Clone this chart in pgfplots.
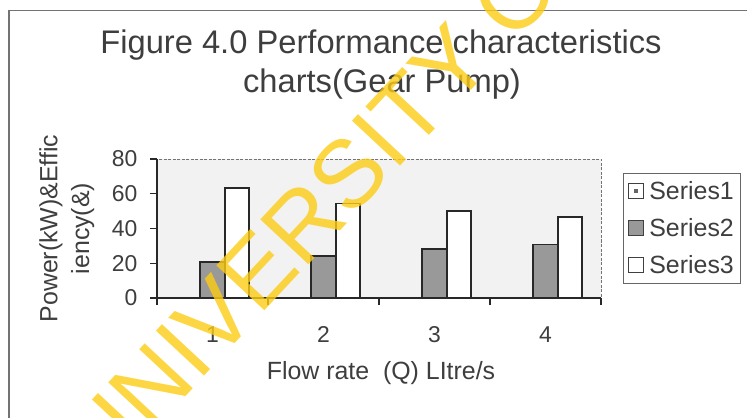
\documentclass[border=0pt]{standalone}
\usepackage{fontspec}
\setmainfont{Liberation Sans}
\usepackage{pgfplots}
\pgfplotsset{compat=1.18}
\definecolor{txt}{RGB}{62,62,62}
\definecolor{wm}{RGB}{252,204,20}
\definecolor{barline}{RGB}{40,40,40}
\begin{document}
\begin{tikzpicture}[x=1bp,y=1bp]
\useasboundingbox (0,0) rectangle (747,417);
\fill[white] (0,0) rectangle (747,417);
\draw[black!55, line width=1.3bp] (9,-5) -- (9,406.5) -- (760,406.5);
\node[anchor=base, font=\fontsize{32.8}{38}\selectfont, text=txt, inner sep=0pt] at (381,364) {Figure 4.0 Performance characteristics};
\node[anchor=base, font=\fontsize{32.8}{38}\selectfont, text=txt, inner sep=0pt] at (382,325) {charts(Gear Pump)};
\begin{axis}[
  at={(157bp,119bp)}, anchor=south west,
  scale only axis, width=444bp, height=139bp,
  xmin=0.5, xmax=4.5, ymin=0, ymax=80,
  axis x line*=bottom, axis y line*=left,
  axis line style={barline, line width=1.6bp, -},
  axis background/.style={fill=black!5, draw=black!55, line width=1bp, dash pattern=on 3bp off 1.5bp},
  xtick={0.5,1.5,2.5,3.5,4.5}, xticklabels={,,,,},
  extra x ticks={1,2,3,4}, extra x tick labels={1,2,3,4},
  extra x tick style={major tick length=0pt},
  ytick={0,20,40,60,80},
  tick align=outside, major tick length=7bp,
  tick style={barline, line width=1.2bp},
  ticklabel style={font=\fontsize{23}{25}\selectfont, text=txt},
  /pgf/number format/assume math mode=true,
  xticklabel style={yshift=-25bp},
  yticklabel style={xshift=-9bp},
  ylabel={Power(kW)\&Effic\\iency(\&)},
  ylabel style={at={(axis description cs:-0.203,0.5)}, anchor=center, align=center, font=\fontsize{25}{32}\selectfont, text=txt},
  xlabel={Flow rate\ \ (Q) LItre/s},
  xlabel style={at={(axis description cs:0.5045,-0.54)}, anchor=center, font=\fontsize{25}{28}\selectfont, text=txt},
  ybar, bar width=24.5bp,
  legend style={at={(axis description cs:1.0495,0.899)}, anchor=north west, draw=black!60, line width=0.8bp, font=\fontsize{25}{28}\selectfont, text=txt, inner xsep=5bp, inner ysep=6bp, row sep=13.5bp, column sep=3bp},
  legend cell align=left,
]
\addplot[fill=white, draw=barline, line width=1.8bp, bar shift=-24.5bp,
  legend image code/.code={\draw[fill=white,draw=black!75,line width=1bp] (0bp,-7bp) rectangle (15bp,8bp); \fill[black!60] (6.5bp,-1bp) rectangle (8.5bp,1bp);}]
  coordinates {(1,0) (2,0) (3,0) (4,0)};
\addplot[fill=black!40, draw=barline, line width=1.8bp, bar shift=0bp,
  legend image code/.code={\draw[fill=black!40,draw=black!75,line width=1bp] (0bp,-7bp) rectangle (15bp,8bp);}]
  coordinates {(1,20.6) (2,24.1) (3,28.4) (4,30.8)};
\addplot[fill=white, draw=barline, line width=1.8bp, bar shift=24.5bp,
  legend image code/.code={\draw[fill=white,draw=black!75,line width=1bp] (0bp,-7bp) rectangle (15bp,8bp);}]
  coordinates {(1,63.5) (2,54.4) (3,50.1) (4,46.6)};
\legend{Series1,Series2,Series3}
\end{axis}
\node[rotate=47, anchor=base west, font=\fontsize{96}{100}\selectfont, text=wm, opacity=0.8, inner sep=0pt] at (104,-67) {UNIVERSITY OF};
\end{tikzpicture}
\end{document}
